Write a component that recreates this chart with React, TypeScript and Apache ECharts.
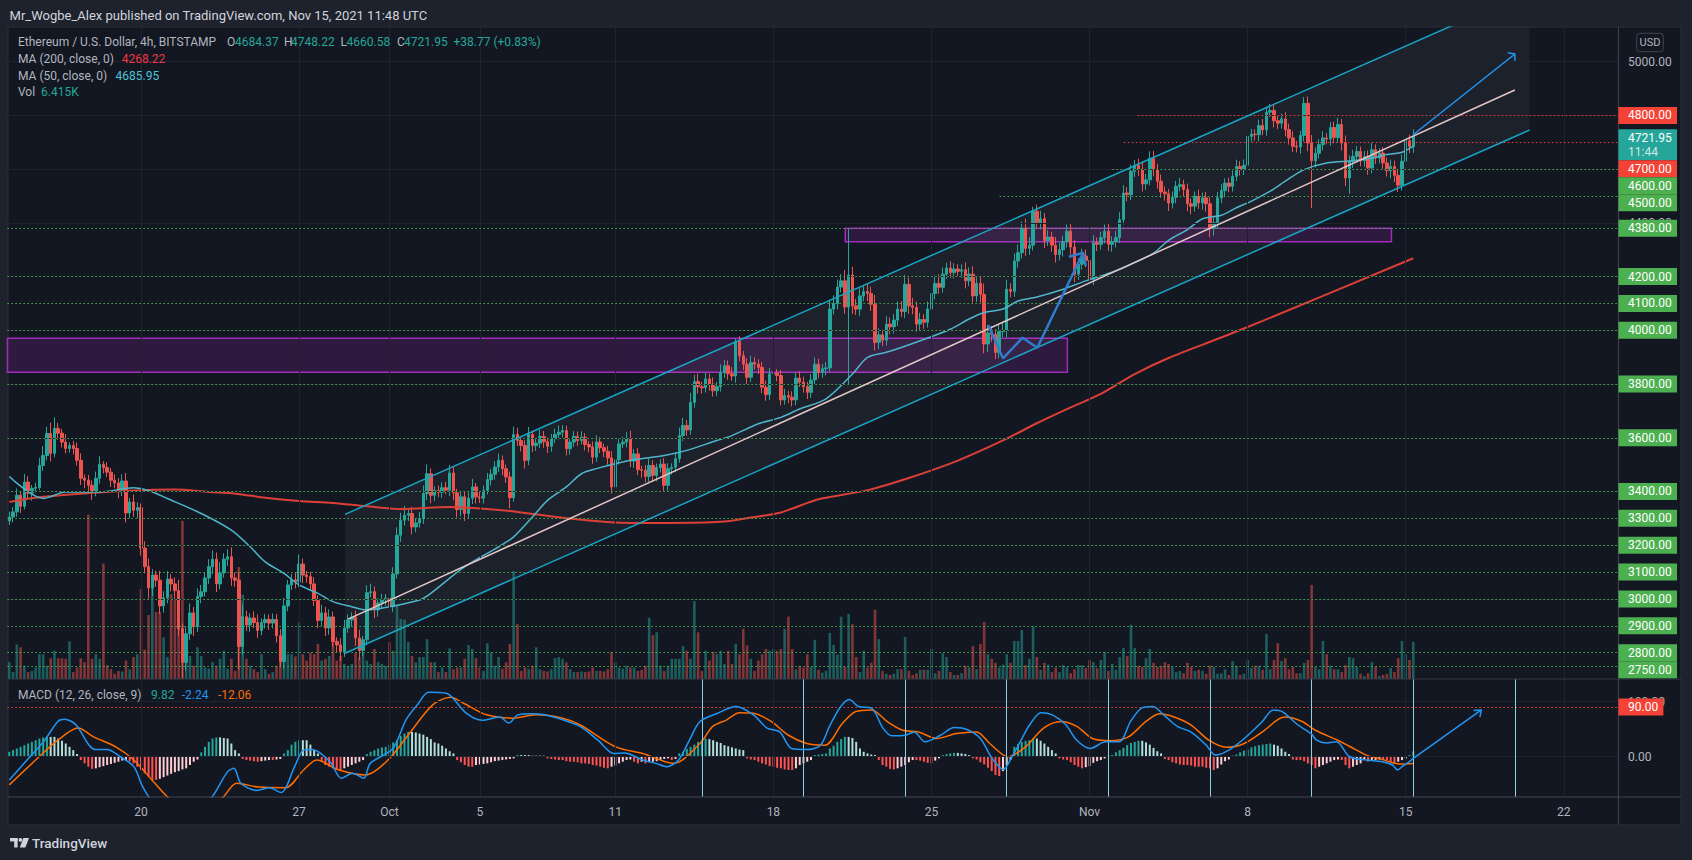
import React, { useEffect, useRef } from "react";
import * as echarts from "echarts";

// ---------- DATA (4h candles, BITSTAMP ETH/USD, index 0 = Sep 14 04:00 UTC) ----------
const firstOpen = 3290;
const closes = [
  3305,3324,3386,3345,3435,3394,3412,3415,3497,3534,
  3616,3542,3635,3617,3584,3560,3571,3560,3516,3449,
  3442,3423,3397,3449,3501,3489,3472,3442,3432,3405,
  3439,3320,3361,3330,3340,3189,3120,3041,3089,3070,
  2974,3004,3074,3056,3031,2889,2764,2870,2948,2897,
  3009,3027,3078,3120,3148,3056,3097,3148,3157,3078,
  3070,2823,2934,2903,2929,2912,2883,2912,2924,2910,
  2924,2863,2767,2974,3052,3071,3064,3130,3089,3083,
  3056,2994,2920,2948,2892,2933,2842,2829,2804,2892,
  2922,2932,2855,2808,2848,3023,3027,2959,2985,2997,
  3003,2971,3093,3237,3293,3312,3318,3268,3283,3299,
  3392,3466,3386,3404,3397,3414,3405,3469,3395,3333,
  3380,3318,3375,3417,3380,3375,3404,3444,3464,3491,
  3516,3485,3454,3377,3612,3590,3571,3516,3612,3571,
  3580,3605,3585,3568,3596,3612,3621,3627,3559,3584,
  3605,3590,3602,3575,3566,3528,3584,3563,3550,3525,
  3417,3518,3577,3584,3596,3513,3540,3481,3479,3456,
  3497,3460,3489,3502,3423,3485,3490,3522,3608,3646,
  3629,3732,3809,3790,3786,3819,3800,3775,3790,3843,
  3868,3838,3830,3958,3905,3874,3825,3880,3874,3862,
  3788,3761,3838,3840,3832,3741,3757,3751,3741,3822,
  3807,3790,3769,3815,3874,3843,3857,3860,4079,4100,
  4161,4184,4087,4206,4091,4079,4128,4144,4137,4097,
  3955,3983,3963,4023,4013,4038,4079,4070,4171,4091,
  4085,4023,4040,4030,4079,4137,4174,4160,4209,4232,
  4215,4228,4220,4225,4184,4209,4128,4175,4134,3949,
  3990,3985,3918,3995,3999,4153,4145,4258,4289,4380,
  4305,4317,4443,4400,4415,4334,4347,4317,4282,4300,
  4330,4369,4310,4209,4246,4276,4260,4190,4326,4320,
  4345,4369,4320,4330,4345,4412,4511,4505,4592,4614,
  4600,4545,4560,4640,4598,4555,4515,4508,4474,4495,
  4536,4542,4524,4471,4462,4499,4474,4493,4471,4382,
  4400,4493,4520,4548,4536,4573,4610,4598,4614,4722,
  4730,4728,4762,4746,4812,4818,4780,4771,4787,4747,
  4716,4685,4682,4725,4845,4697,4631,4659,4691,4716,
  4712,4755,4718,4766,4697,4567,4629,4647,4666,4631,
  4647,4604,4672,4641,4660,4623,4594,4610,4577,4540,
  4629,4706,4684.37,4721.95,
];
const upWick = [
  20,18,25,15,30,22,12,18,28,35, 25,40,41,20,15,30,12,18,22,26,
  14,20,18,25,30,12,20,15,22,18, 25,30,15,28,20,15,26,30,22,16,
  35,25,30,18,24,40,20,28,35,22, 30,25,20,28,32,25,40,22,28,35,
  20,30,45,22,18,25,30,15,20,18, 22,20,25,30,18,22,28,35,20,15,
  18,25,20,30,22,28,20,15,25,30, 20,18,25,30,15,28,30,20,18,22,
  15,20,25,30,28,35,20,25,18,25, 30,35,20,15,18,20,22,30,25,15,
  18,20,22,30,15,20,18,25,20,22, 25,18,15,20,30,25,15,20,28,15,
  18,25,20,15,18,22,25,20,18,15, 20,18,22,15,12,20,25,18,15,20,
  25,30,22,20,25,30,18,22,15,20, 25,20,15,18,22,20,15,25,30,28,
  20,35,25,30,18,22,20,25,18,30, 22,20,25,12,20,18,22,25,20,18,
  20,25,22,18,15,20,25,18,22,20, 25,20,18,22,25,20,18,22,35,30,
  28,25,40,171,30,25,28,22,30,25, 35,25,20,30,25,22,28,30,35,25,
  30,22,25,20,28,22,30,35,25,20, 25,22,18,20,28,25,30,22,25,40,
  30,25,20,25,30,35,22,28,30,25, 35,30,17,25,30,22,25,20,30,25,
  22,25,30,25,22,28,25,30,28,20, 22,25,30,20,25,28,30,22,25,20,
  25,30,22,26,28,22,25,20,18,22, 20,25,18,22,20,18,25,20,22,25,
  20,22,25,18,20,22,25,20,22,28, 20,18,22,25,20,25,22,18,20,25,
  22,25,20,18,23,25,30,22,20,25, 18,20,22,25,20,28,22,25,20,18,
  20,22,25,20,18,22,20,25,22,20, 25,28,22,26.27,
];
const downWick = [
  15,20,18,25,12,20,28,15,10,20, 18,30,15,25,20,18,15,22,20,25,
  30,25,28,15,20,22,18,25,20,30, 22,35,20,25,30,28,25,40,30,25,
  30,25,20,28,35,25,57,30,22,35, 20,25,18,22,28,30,20,18,25,30,
  25,86,30,22,25,20,28,18,22,25, 20,25,22,28,20,18,25,20,30,22,
  25,20,28,22,30,25,20,28,35,20, 18,25,30,35,22,20,18,30,25,20,
  22,30,20,18,25,20,22,28,20,18, 20,25,30,22,18,20,15,22,28,30,
  25,28,20,22,25,18,20,15,22,20, 18,25,22,40,15,20,22,30,18,25,
  20,18,22,25,20,15,18,20,25,22, 18,20,15,22,20,25,18,20,22,25,
  25,20,18,15,20,22,25,20,28,22, 20,25,22,18,25,20,22,18,15,20,
  22,18,20,25,22,18,25,22,20,18, 20,22,18,25,20,22,25,18,20,25,
  22,23,20,25,22,21,18,22,25,20, 18,22,25,20,18,22,20,25,15,20,
  22,20,25,289,30,22,25,20,28,25, 30,25,22,20,28,25,22,20,25,30,
  25,28,22,25,20,18,22,25,20,18, 20,22,18,25,28,20,25,22,30,35,
  30,28,25,22,20,25,22,20,25,22, 28,25,20,22,25,28,20,25,30,22,
  25,22,28,30,22,20,25,30,22,25, 20,22,25,28,22,20,18,25,20,22,
  25,28,22,20,25,28,22,25,30,20, 22,18,25,28,30,20,22,25,30,35,
  30,22,20,25,22,20,18,22,20,25, 20,22,25,20,22,18,25,22,20,25,
  25,22,20,25,22,30,176,25,20,22, 20,25,22,20,28,30,59,25,22,20,
  22,25,20,22,20,25,22,28,25,25, 20,22,25,23.79,
];
const volumes = [
  2.9,1.2,6,5.5,2.3,1.2,1.4,2,4.3,4.3, 2.3,3.6,4.9,3.6,3.6,3.5,6.5,1.2,2,3.6,
  2.9,28.5,3.5,4.3,3.5,20,2.4,1.7,0.9,1.4, 1.3,3.2,1.7,3.8,4.3,15.6,5.1,11.1,16.2,11.6,
  11.6,7.2,3.8,14.7,13.9,9.8,27.4,5.2,4,2.3, 5.5,4,2,1.8,2.9,2.3,3.5,4.9,1.8,3.5,
  1.4,19.4,14.6,3.5,2.3,1.7,1.2,4.3,1.7,0.9, 1.2,2.3,4.3,3.5,4.3,4.3,3.9,9.8,4.3,3.2,
  4.6,4.3,6.1,3.2,3.5,4,6.6,3.2,4,2.6, 2.3,2.6,4.6,3.8,4.6,3.2,2.6,5.2,2.9,2.6,
  2.3,6.4,4.9,12.7,10.4,10.3,6.4,4,2.9,3.8, 3.8,6.9,2.9,2.9,1.2,2,1.2,5.3,1.7,2,
  2,3.5,5.9,5.2,3.6,2,1.4,6.2,4.6,2.3, 3.8,1.8,2.9,6.1,18.7,9.5,1.4,2,1.7,2.3,
  5.5,1.7,1.4,1.3,1.7,3.6,3.8,3.5,2.9,1.7, 1.2,1.2,1.3,1.2,1.3,2,1.4,1.4,1.3,1.7,
  4.7,2.9,2,1.8,2.3,2,2,1.4,1.6,2.3, 10.6,7.6,8.1,2.3,1.4,2.3,3.5,3.5,3.5,5.7,
  4.9,3.5,13.5,8.1,1.4,4.9,3.2,4.7,4.3,4.9, 2.6,4.9,2.6,6.1,4.3,8.7,5.8,3.5,1.4,3.2,
  4.3,5.2,4.9,5.2,4.9,5.2,8.7,10.8,5.2,1.7, 2.3,2,4.3,2.1,6.8,1.6,1.1,1.4,8,5.9,
  4.2,10.8,2.1,11.3,9.5,3.8,1.2,4.9,2,2.8, 12,6.9,1.4,0.9,0.7,0.9,1.7,1.7,7.3,1.4,
  0.7,1,1.6,1.6,1.6,5.2,1,1.4,4.5,3.8, 1.2,0.7,0.7,1,2.3,2,5.7,1.7,6.1,9.9,
  4.3,3.5,2.8,2,2.5,4.3,2.8,6.6,6.6,8.5, 2.4,3.5,9.1,3.8,1.6,2.8,2.5,1.2,2,1.2,
  2.4,2.1,1,1.7,2.4,2.4,1.9,3.3,2.9,1.9, 3.3,4.7,1.4,2.6,1.6,3.8,5.4,4,9.4,5.4,
  2.3,2.1,3.6,5.2,2.8,2.1,2.3,2.9,2.6,2.1, 1.2,1.4,1,2.8,2.1,1.4,1.6,1.4,0.9,2.3,
  2.1,0.9,1,1.7,0.7,3.1,2.3,0.7,0.9,3.3, 1.9,2.3,2.3,1.6,7.8,1.7,3.3,6.2,3.1,3.6,
  1.7,2.1,1,1,2.8,3.3,16.3,2.1,1.7,6.6, 4.3,2.3,1.7,1.7,1.2,2.4,3.8,3.6,2.1,0.9,
  0.5,1,2.9,2.1,0.5,0.7,0.9,1.9,1.2,3.6, 6.6,4.3,3.3,6.415,
];
const macdHist = [
  9,12,15,18,21,24,27,30,33,35, 36,36,36,33,29,24,18,12,5,-6,
  -12,-18,-22,-21,-19,-17,-15,-13,-11,-9, -7,-6,-8,-12,-18,-24,-30,-36,-42,-42,
  -40,-37,-34,-31,-28,-26,-23,-21,-15,-9, -5,8,18,27,33,35,35,34,33,24,
  12,6,-4,-6,-7,-8,-9,-8,-7,-6, -6,-5,-4,6,12,22,27,30,30,30,
  22,12,6,-9,-15,-18,-21,-24,-24,-21, -18,-15,-12,-9,-6,5,9,12,15,17,
  18,22,26,30,38,42,45,45,44,42, 40,36,32,26,24,20,15,10,6,-6,
  -10,-15,-18,-18,-15,-14,-13,-12,-10,-8, -7,-6,-5,-4,-3,3,3,3,3,2,
  2,2,2,-3,-4,-5,-6,-6,-8,-9, -9,-10,-12,-12,-13,-15,-16,-18,-20,-21,
  -18,-16,-12,-9,-6,-5,-9,-12,-9,-12, -10,-9,-8,-6,-4,-3,-6,-4,6,9,
  14,18,22,27,30,33,32,30,27,25, 21,19,17,15,13,12,-3,-5,-6,-9,
  -12,-14,-17,-18,-20,-21,-23,-24,-24,-21, -15,-12,-9,-6,3,4,5,6,15,20,
  27,32,36,36,34,27,15,9,6,4, 3,-6,-15,-18,-22,-23,-21,-18,-15,-10,
  -6,-6,-7,-9,-11,-12,-7,-3,3,5, 6,7,7,6,5,3,-3,-5,-10,-14,
  -20,-26,-33,-35,-26,-15,-6,18,23,27, 29,30,33,33,29,24,18,12,6,-3,
  -5,-6,-10,-15,-18,-21,-19,-17,-11,-8, -6,-3,2,3,8,12,16,21,25,27,
  29,29,26,22,16,10,6,-4,-6,-10, -12,-14,-15,-15,-16,-18,-18,-18,-20,-21,
  -24,-21,-14,-8,-5,2,4,8,11,13, 17,19,21,22,23,24,22,20,15,9,
  5,-5,-6,-6,-8,-12,-15,-21,-18,-15, -12,-9,-6,-5,-6,-15,-21,-18,-15,-12,
  -6,-9,-7,-6,-5,-5,-6,-10,-12,-9, -6,-3,3,9.82,
];
const macdLine = [
  [0,-42],[4.7,-6],[9.4,30],[12.9,64],[14.7,68],[17.7,58],[21.2,21],[23,13],[26,13],[29.5,0],
  [33.1,-18],[35.5,-55],[40,-100],[45,-115],[50,-100],[53.9,-73],[58,-27],[59.7,-21],[61.5,-48],[65.7,-61],
  [69.2,-56],[72.2,-65],[75.8,-18],[78.2,12],[80.5,13],[85.2,-9],[88.2,-39],[91.2,-30],[94.2,-39],[95.9,-12],
  [101.9,15],[105.4,67],[108.4,94],[111.4,117],[116.1,115],[121.4,79],[125.6,66],[130.3,72],[132.7,61],[135.1,76],
  [138.6,78],[142.2,76],[147,67],[151.6,55],[156.4,30],[160.6,6],[163.5,7],[168.3,-6],[171.8,-12],[174.8,-18],
  [177.8,-6],[180.7,30],[183.5,64],[188.2,79],[193,91],[197.7,76],[201.3,52],[204.7,45],[207.8,15],[211.9,13],
  [215.5,21],[217.9,55],[220.9,91],[223.2,104],[225.6,91],[229.1,88],[232.1,52],[234.5,38],[238,39],[240.4,45],
  [243.3,27],[247.4,39],[251,53],[254.6,49],[258,33],[261.1,-3],[264.1,-23],[266.4,0],[268.8,30],[271.1,58],
  [274.1,80],[277.1,76],[280.7,58],[283.6,30],[287.2,15],[291.3,27],[294.9,27],[297.9,64],[300.8,88],[303.8,91],
  [306.7,76],[310.3,55],[313.9,45],[318,21],[320.4,3],[324,12],[328.1,33],[332.9,64],[335.8,85],[338.2,82],
  [342.3,58],[346,41],[347.3,30],[349.9,25],[352.6,27],[356.1,0],[360.5,-6],[364.8,-9],[367.5,-15],[368.8,-24],
  [370.2,-17],[372,-9],[373,-2.24],
];
const signalLine = [
  [0,-51],[7,-6],[12.9,30],[18.3,52],[22.4,36],[28.3,18],[33.1,-6],[37.9,-42],[44,-85],[49,-95],
  [53,-88],[56.8,-73],[60.4,-48],[66.3,-55],[73.4,-56],[78.2,-24],[81.7,-6],[87.6,-24],[94.7,-33],[100.6,-6],
  [106.6,45],[112.5,94],[117.3,108],[120.7,97],[126.8,76],[133.8,70],[139.8,76],[147,70],[151.6,58],[161.1,18],
  [168.3,6],[176.5,-12],[183.5,24],[186.9,55],[190.6,67],[194,80],[197.7,79],[202.4,64],[207,39],[211.9,24],
  [216.7,21],[221.4,61],[224.9,82],[229.1,85],[233.2,64],[237.4,48],[241.6,45],[246.3,33],[251.6,42],[257,45],
  [260.5,24],[265.3,0],[270,18],[274.8,52],[279.5,64],[283.6,55],[287.8,33],[292.5,29],[297.3,36],[302,64],
  [305.6,78],[309.1,73],[313.9,58],[318.7,30],[323.4,17],[328.1,24],[332.9,45],[338.8,72],[343.5,64],[347,48],
  [352.9,30],[357.7,13],[360.5,3],[364.8,-5],[369.3,-13],[373,-12.06],
];
const ma200 = [
  [0,3361],[9,3380],[21,3394],[33,3404],[44,3407],[53,3398],[60,3392],[68,3377],[77,3365],[86,3357],
  [95,3345],[104,3335],[117,3342],[126,3336],[135,3324],[149,3299],[162,3284],[175,3283],[189,3287],[197,3303],
  [205,3322],[215,3371],[228,3405],[240,3455],[252,3515],[264,3590],[273,3654],[282,3713],[290,3763],[299,3837],
  [308,3897],[322,3973],[333,4035],[373,4268.22],
];
const ma50 = [
  [0,3456],[9,3374],[15,3398],[24,3398],[33,3414],[37,3404],[42,3374],[51,3318],[59,3256],[64,3194],
  [68,3138],[73,3095],[77,3052],[82,3021],[86,2990],[91,2971],[95,2959],[101,2971],[109,2996],[112,3021],
  [121,3120],[130,3194],[134,3231],[139,3305],[143,3367],[148,3417],[152,3466],[156,3485],[165,3516],[174,3534],
  [180,3553],[188,3590],[192,3608],[199,3652],[205,3676],[210,3707],[217,3745],[224,3837],[228,3899],[233,3918],
  [237,3936],[242,3961],[250,4004],[255,4042],[259,4066],[264,4079],[268,4109],[273,4124],[280,4153],[286,4184],
  [290,4202],[295,4227],[299,4252],[304,4287],[308,4335],[313,4375],[317,4415],[322,4428],[326,4456],[330,4481],
  [335,4518],[339,4555],[344,4598],[350,4623],[357,4631],[362,4641],[366,4654],[370,4663],[373,4685.95],
];
const timeTicks: [number, string][] = [
  [35,"20"],[77,"27"],[101,"Oct"],[125,"5"],[161,"11"],[203,"18"],[245,"25"],[287,"Nov"],[329,"8"],[371,"15"],[413,"22"],
];
const levelPrices = [4800,4700,4600,4500,4380,4200,4100,4000,3800,3600,3400,3300,3200,3100,3000,2900,2800,2750];
const levelStarts = [299.8,296.1,293.1,263.1,-0.5,-0.5,-0.5,-0.5,-0.5,-0.5,-0.5,-0.5,-0.5,-0.5,-0.5,-0.5,-0.5,-0.5];
const levelIsRed = [true,true,false,false,false,false,false,false,false,false,false,false,false,false,false,false,false,false];
const gridPrices = [3000,3200,3400,3600,3800,4000,4200,4400,4600,4800,5000];
const macdGridValues = [0,100];
const macdLevel = 90;
const cycleLines = [184,211,238,265,292,319,346,373,400];
const upperChannel = [[89.2,3315],[403.9,5261.5]];
const lowerChannel = [[89.2,2797.7],[403.9,4745.6]];
const trendLine = [[90,2925],[400,4894.5]];
const forecastArrow = [[372.9,4727],[400,5028.5]];
const forecastArrowHead = [[398.1,5033.4],[400,5028.5],[400,5003.6]];
const sketchPath = [[260.1,4019.7],[264,3895.8],[269.2,3972.5],[273.1,3935.3],[285.3,4288.9]];
const sketchHead = [[281.5,4274],[285.3,4288.9],[286,4239.4]];
const zoneBoxes = [[[-0.5,3970],[281.1,3844]],[[222.1,4380],[367.2,4330]]];
const macdArrow = [[373,-3],[391.1,85]];
const macdArrowHead = [[389.05,83.7],[391.1,85],[390.7,71.7]];
const lastClose = 4721.95;
const countdown = "11:44";

const SLOTS = 428;
const PRICE_MIN = 2702, PRICE_MAX = 5129;
const VOL_MAX = 113;
const MACD_MIN = -73, MACD_MAX = 141;

const FONT = 'Roboto, "Liberation Sans", sans-serif';
const UP = "#26a69a", DOWN = "#ef5350";
const GRID = "#1f232d";
const AXIS_TEXT = "#b2b5be";

export default function App() {
  const ref = useRef<HTMLDivElement>(null);
  useEffect(() => {
    const chart = echarts.init(ref.current as HTMLDivElement, null, { renderer: "svg" });
    const cats = Array.from({ length: SLOTS }, (_, i) => String(i));
    const tickMap = new Map<number, string>(timeTicks);
    const opens = closes.map((c, i) => (i === 0 ? firstOpen : closes[i - 1]));
    const candleData = closes.map((c, i) => {
      const o = opens[i];
      return [o, c, Math.min(o, c) - downWick[i], Math.max(o, c) + upWick[i]];
    });
    const volData = volumes.map((v, i) => ({
      value: v,
      itemStyle: { color: closes[i] >= opens[i] ? "rgba(38,166,154,0.5)" : "rgba(239,83,80,0.5)" },
    }));
    const histData = macdHist.map((h, i) => {
      const prev = i === 0 ? 0 : macdHist[i - 1];
      const color = h >= 0 ? (h > prev ? "#26a69a" : "#b2dfdb") : (h > prev ? "#ffcdd2" : "#ff5252");
      return { value: h, itemStyle: { color } };
    });
    const [[uk1, up1], [uk2, up2]] = upperChannel;
    const topK = uk1 + ((PRICE_MAX - up1) * (uk2 - uk1)) / (up2 - up1);
    const channelPoly = [upperChannel[0], [topK, PRICE_MAX], [uk2, PRICE_MAX], lowerChannel[1], lowerChannel[0]];

    const plain = (data: number[][], color: string, width: number, extra: any = {}) => ({
      type: "line", xAxisIndex: 1, yAxisIndex: 0, data, showSymbol: false, symbol: "none",
      silent: true, lineStyle: { color, width }, z: 6, ...extra,
    });

    const option: any = {
      animation: false,
      backgroundColor: "#1e222d",
      grid: [
        { left: 7.4, width: 1611, top: 27, height: 652 },
        { left: 7.4, width: 1611, top: 679, height: 118 },
      ],
      xAxis: [
        { type: "category", gridIndex: 0, data: cats, boundaryGap: true, show: false },
        { type: "value", gridIndex: 0, min: -0.5, max: SLOTS - 0.5, show: false },
        {
          type: "category", gridIndex: 1, data: cats, boundaryGap: true,
          axisLine: { show: false }, axisTick: { show: false }, splitLine: { show: false },
          axisLabel: {
            interval: (idx: number) => tickMap.has(idx),
            formatter: (v: string) => tickMap.get(Number(v)) ?? "",
            color: AXIS_TEXT, fontSize: 12, fontFamily: FONT, margin: 9,
          },
        },
        { type: "value", gridIndex: 1, min: -0.5, max: SLOTS - 0.5, show: false },
      ],
      yAxis: [
        { type: "value", gridIndex: 0, min: PRICE_MIN, max: PRICE_MAX, show: false },
        { type: "value", gridIndex: 0, min: 0, max: VOL_MAX, show: false },
        { type: "value", gridIndex: 1, min: MACD_MIN, max: MACD_MAX, show: false },
      ],
      series: [
        {
          type: "line", xAxisIndex: 1, yAxisIndex: 0, data: [[0, PRICE_MIN]], symbol: "none",
          lineStyle: { width: 0 }, silent: true, z: 0,
          markLine: {
            silent: true, symbol: "none", label: { show: false },
            lineStyle: { color: GRID, width: 1, type: "solid" },
            data: [
              ...gridPrices.map((p) => [{ coord: [-0.5, p] }, { coord: [SLOTS - 0.5, p] }]),
              ...timeTicks.map(([k]) => ({ xAxis: k })),
            ],
          },
        },
        {
          type: "custom", xAxisIndex: 1, yAxisIndex: 0, data: [[200, 4000]], silent: true, z: 1,
          renderItem: (_p: any, api: any) => ({
            type: "polygon",
            shape: { points: channelPoly.map((pt) => api.coord(pt)) },
            style: { fill: "rgba(255,255,255,0.045)" },
          }),
        },
        {
          type: "bar", xAxisIndex: 0, yAxisIndex: 1, data: volData, barWidth: 2.6, silent: true, z: 2,
        },
        {
          type: "candlestick", xAxisIndex: 0, yAxisIndex: 0, data: candleData, barWidth: 3, silent: true, z: 3,
          itemStyle: { color: UP, color0: DOWN, borderColor: UP, borderColor0: DOWN, borderWidth: 1 },
        },
        plain(ma200, "#dc3f38", 2, { smooth: 0.3, z: 4 }),
        plain(ma50, "#4eb6cb", 1.5, { smooth: 0.3, z: 4 }),
        {
          type: "line", xAxisIndex: 1, yAxisIndex: 0, data: [[0, PRICE_MIN]], symbol: "none",
          lineStyle: { width: 0 }, silent: true, z: 5,
          markLine: {
            silent: true, symbol: "none", label: { show: false },
            data: levelPrices.map((p, i) => [
              { coord: [levelStarts[i], p], lineStyle: { color: levelIsRed[i] ? "#f44336" : "#4caf50", width: 1, type: [1.5, 2.5] } },
              { coord: [SLOTS - 0.5, p] },
            ]),
          },
          markArea: {
            silent: true,
            itemStyle: { color: "rgba(156,39,176,0.2)", borderColor: "#a12bbb", borderWidth: 1.5 },
            data: zoneBoxes.map(([a, b]) => [{ coord: a }, { coord: b }]),
          },
        },
        plain(upperChannel, "#17a5c4", 1.5),
        plain(lowerChannel, "#17a5c4", 1.5),
        plain(trendLine, "#e3c6c6", 1.5),
        plain(forecastArrow, "#2196f3", 1.5),
        plain(forecastArrowHead, "#2196f3", 1.5),
        plain(sketchPath, "#2f7ccd", 2.5),
        plain(sketchHead, "#2f7ccd", 2.5),
        // MACD pane
        {
          type: "line", xAxisIndex: 3, yAxisIndex: 2, data: [[0, 0]], symbol: "none",
          lineStyle: { width: 0 }, silent: true, z: 0,
          markLine: {
            silent: true, symbol: "none", label: { show: false },
            lineStyle: { color: GRID, width: 1, type: "solid" },
            data: [
              ...macdGridValues.map((v) => [{ coord: [-0.5, v] }, { coord: [SLOTS - 0.5, v] }]),
              ...timeTicks.map(([k]) => ({ xAxis: k })),
            ],
          },
        },
        {
          type: "bar", xAxisIndex: 2, yAxisIndex: 2, data: histData, barWidth: 2, silent: true, z: 2,
        },
        {
          type: "line", xAxisIndex: 3, yAxisIndex: 2, data: [[0, 0]], symbol: "none",
          lineStyle: { width: 0 }, silent: true, z: 3,
          markLine: {
            silent: true, symbol: "none", label: { show: false },
            data: [
              [{ coord: [-0.5, macdLevel], lineStyle: { color: "#f44336", width: 1, type: [1.5, 2.5] } }, { coord: [SLOTS - 0.5, macdLevel] }],
              ...cycleLines.map((k) => ({ xAxis: k, lineStyle: { color: "#8fd2e3", width: 1, type: "solid" } })),
            ],
          },
        },
        { type: "line", xAxisIndex: 3, yAxisIndex: 2, data: signalLine, smooth: 0.3, showSymbol: false, symbol: "none", silent: true, z: 4, lineStyle: { color: "#ff6d00", width: 1.5 } },
        { type: "line", xAxisIndex: 3, yAxisIndex: 2, data: macdLine, smooth: 0.3, showSymbol: false, symbol: "none", silent: true, z: 5, lineStyle: { color: "#2196f3", width: 1.5 } },
        { type: "line", xAxisIndex: 3, yAxisIndex: 2, data: macdArrow, showSymbol: false, symbol: "none", silent: true, z: 6, lineStyle: { color: "#2196f3", width: 1.5 } },
        { type: "line", xAxisIndex: 3, yAxisIndex: 2, data: macdArrowHead, showSymbol: false, symbol: "none", silent: true, z: 6, lineStyle: { color: "#2196f3", width: 1.5 } },
      ],
    };
    chart.setOption(option);

    const py = (p: number) => chart.convertToPixel({ yAxisIndex: 0 }, p) as number;
    const my = (v: number) => chart.convertToPixel({ yAxisIndex: 2 }, v) as number;
    const axisRight = chart.convertToPixel({ xAxisIndex: 1 }, SLOTS - 0.5) as number;
    const mainBottom = py(PRICE_MIN);
    const macdBottom = my(MACD_MIN);
    const labelX = axisRight + 9.6;
    const boxW = 58.6;
    const els: any[] = [];
    const txt = (x: number, y: number, s: string, fill: string, size = 12, extra: any = {}, z = 60) => ({
      type: "text", x, y, z, silent: true,
      style: { text: s, fill, fontSize: size, fontFamily: FONT, align: "left", verticalAlign: "middle", ...extra },
    });
    const line = (x1: number, y1: number, x2: number, y2: number, stroke: string, z = 50) => ({
      type: "line", z, silent: true, shape: { x1, y1, x2, y2 }, style: { stroke, lineWidth: 1 },
    });

    // frame
    els.push({ type: "rect", z: -10, silent: true, shape: { x: 8, y: 27, width: 1673, height: 798 }, style: { fill: "#131722", stroke: "#2a2e39", lineWidth: 1 } });
    els.push(line(8, mainBottom, 1681, mainBottom, "#363a45"));
    els.push(line(8, macdBottom, 1681, macdBottom, "#434651"));
    els.push(line(axisRight, 27, axisRight, 825, "#434651"));

    // header + legends
    els.push(txt(9.6, 15, "Mr_Wogbe_Alex published on TradingView.com, Nov 15, 2021 11:48 UTC", "#d1d4dc", 13));
    els.push(txt(18, 42.3, "Ethereum / U.S. Dollar, 4h, BITSTAMP", AXIS_TEXT));
    const ohlc: [number, string, number, string][] = [
      [227, "O", 235, "4684.37"], [284, "H", 291, "4748.22"], [340.6, "L", 346.5, "4660.58"], [397, "C", 404, "4721.95"],
    ];
    ohlc.forEach(([lx, l, vx, v]) => { els.push(txt(lx, 42.3, l, AXIS_TEXT)); els.push(txt(vx, 42.3, v, UP)); });
    els.push(txt(453.5, 42.3, "+38.77 (+0.83%)", UP));
    els.push(txt(18, 59, "MA (200, close, 0)", AXIS_TEXT));
    els.push(txt(121.7, 59, "4268.22", "#f23645"));
    els.push(txt(18, 75.7, "MA (50, close, 0)", AXIS_TEXT));
    els.push(txt(115.6, 75.7, "4685.95", "#4cc3d9"));
    els.push(txt(18, 92.3, "Vol", AXIS_TEXT));
    els.push(txt(41, 92.3, "6.415K", UP));
    els.push(txt(17.9, 695, "MACD (12, 26, close, 9)", AXIS_TEXT));
    els.push(txt(151, 695, "9.82", UP));
    els.push(txt(181.7, 695, "-2.24", "#2196f3"));
    els.push(txt(217.9, 695, "-12.06", "#ff6d00"));

    // USD badge
    els.push({ type: "rect", z: 60, silent: true, shape: { x: 1636.7, y: 33.3, width: 26.6, height: 18.4, r: 3 }, style: { fill: "none", stroke: "#434651", lineWidth: 1 } });
    els.push(txt(1650, 42.6, "USD", AXIS_TEXT, 11, { align: "center" }));

    // price axis labels
    gridPrices.forEach((p) => els.push(txt(labelX, py(p), p.toFixed(2), AXIS_TEXT)));
    macdGridValues.forEach((v) => els.push(txt(labelX, my(v), v.toFixed(2), AXIS_TEXT)));

    // level badges with collision push-down
    const items: any[] = levelPrices.map((p, i) => ({ p, color: levelIsRed[i] ? "#f44336" : "#4caf50", text: p.toFixed(2), h: 17, anchor: 8.5 }));
    items.push({ p: lastClose, color: UP, text: lastClose.toFixed(2), h: 31, anchor: 7, sub: countdown });
    items.sort((a, b) => b.p - a.p);
    let bottom = -Infinity;
    items.forEach((it) => {
      let top = py(it.p) - it.anchor;
      if (top < bottom) top = bottom;
      bottom = top + it.h;
      els.push({ type: "rect", z: 70, silent: true, shape: { x: axisRight, y: top, width: boxW, height: it.h }, style: { fill: it.color } });
      els.push(txt(labelX, top + 8.5, it.text, "#ffffff", 12, {}, 71));
      if (it.sub) els.push(txt(labelX, top + 22.5, it.sub, "rgba(255,255,255,0.78)", 12, {}, 71));
    });
    const m90 = my(macdLevel);
    els.push({ type: "rect", z: 70, silent: true, shape: { x: axisRight, y: m90 - 8.5, width: 45, height: 17 }, style: { fill: "#f44336" } });
    els.push(txt(labelX, m90, macdLevel.toFixed(2), "#ffffff", 12, {}, 71));

    // footer logo
    const logo = "#d1d4dc";
    els.push({ type: "rect", z: 60, silent: true, shape: { x: 10, y: 838, width: 7.6, height: 3.4 }, style: { fill: logo } });
    els.push({ type: "rect", z: 60, silent: true, shape: { x: 14.2, y: 838, width: 3.4, height: 9.4 }, style: { fill: logo } });
    els.push({ type: "circle", z: 60, silent: true, shape: { cx: 20.4, cy: 839.8, r: 1.9 }, style: { fill: logo } });
    els.push({ type: "polygon", z: 60, silent: true, shape: { points: [[23.4, 838], [29, 838], [25.4, 847.4], [19.8, 847.4]] }, style: { fill: logo } });
    els.push(txt(32, 843, "TradingView", logo, 13.5, { fontWeight: 500 }));

    chart.setOption({ graphic: { elements: els } });
    return () => chart.dispose();
  }, []);
  return <div ref={ref} style={{ position: "fixed", left: 0, top: 0, width: 1692, height: 860 }} />;
}
